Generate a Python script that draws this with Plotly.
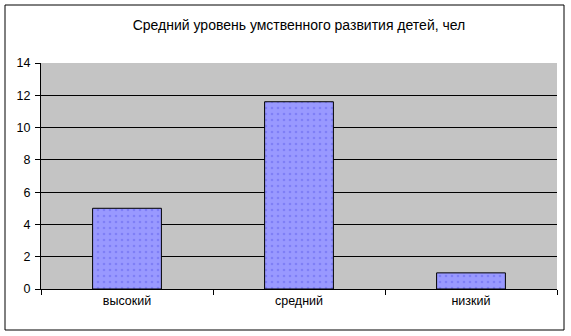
import plotly.graph_objects as go

categories = ["высокий", "средний", "низкий"]
values = [5, 11.6, 1]
y_ticks = [0, 2, 4, 6, 8, 10, 12, 14]
title_text = "Средний уровень умственного развития детей, чел"

W, H = 571, 336
L, R, T, B = 41, 14, 63, 47

fig = go.Figure()
fig.add_trace(go.Bar(
    x=categories, y=values, width=0.4,
    marker=dict(color="#9999FF", line=dict(color="black", width=1),
                pattern=dict(shape=".", fgcolor="#6666EE", bgcolor="#9999FF", size=6, solidity=0.15)),
))

fig.update_layout(
    width=W, height=H,
    margin=dict(l=L, r=R, t=T, b=B),
    paper_bgcolor="white", plot_bgcolor="#C4C4C4",
    font=dict(family="Liberation Sans, Arial", size=12, color="black"),
    title=dict(text=title_text, x=0.5, xref="paper", xanchor="center", y=1 - 25 / H, yanchor="middle",
               font=dict(size=14)),
    showlegend=False,
    bargap=0.6,
)
fig.update_xaxes(showline=True, linecolor="black", linewidth=1, ticks="outside", tickson="boundaries",
                 ticklen=5, tickcolor="black", showgrid=False, tickfont=dict(size=12.5))
fig.update_yaxes(range=[0, 14], tickvals=y_ticks, showline=True, linecolor="black", linewidth=1,
                 ticks="outside", ticklen=5, tickcolor="black", showgrid=True, gridcolor="black",
                 gridwidth=1, zeroline=False, tickfont=dict(size=12.5), ticklabelstandoff=2)

pw, ph = W - L - R, H - T - B
fig.add_shape(type="rect", xref="paper", yref="paper",
              x0=(5 - L) / pw, x1=(564 - L) / pw, y0=-(330 - (H - B)) / ph, y1=((H - B) - 5) / ph,
              line=dict(color="black", width=1), fillcolor="rgba(0,0,0,0)", layer="above")

fig.write_html("out.html")
